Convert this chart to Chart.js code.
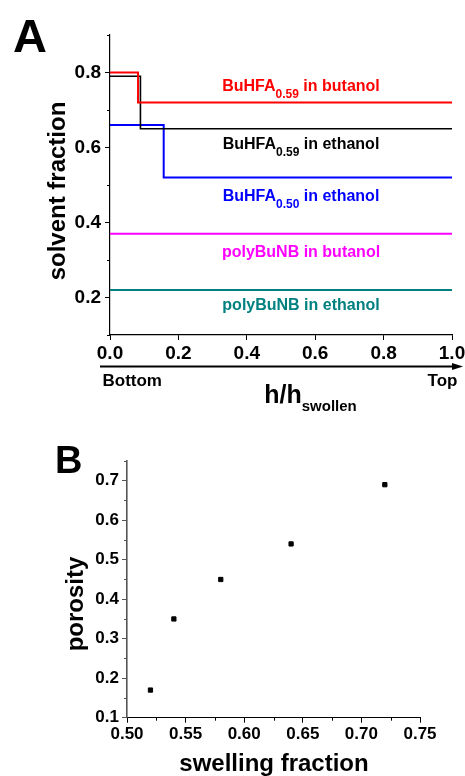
<!DOCTYPE html>
<html>
<head>
<meta charset="utf-8">
<script src="https://cdn.jsdelivr.net/npm/chart.js@4.4.1/dist/chart.umd.min.js"></script>
<style>
  html, body { margin: 0; padding: 0; background: #fff; }
  #wrap { position: relative; width: 465px; height: 776px; overflow: hidden; }
  canvas { position: absolute; left: 0; }
  #panelA { top: 0; }
  #panelB { top: 440px; }
</style>
</head>
<body>
<div id="wrap">
  <canvas id="panelA" width="465" height="440"></canvas>
  <canvas id="panelB" width="465" height="336"></canvas>
</div>
<script>
// ============================================
// Solvent fraction profiles (A) + porosity vs swelling (B)
// ============================================

// --- Data: panel A, h/h_swollen vs solvent fraction (stepped) ---
const hBut59 = [0, 0.082, 1];
const fBut59 = [0.80, 0.72, 0.72];
const hEth59 = [0, 0.089, 1];
const fEth59 = [0.79, 0.65, 0.65];
const hEth50 = [0, 0.157, 1];
const fEth50 = [0.66, 0.52, 0.52];
const hNbBut = [0, 1];
const fNbBut = [0.37, 0.37];
const hNbEth = [0, 1];
const fNbEth = [0.22, 0.22];

// series names as [text, subscript, text]
const nameBut59 = ['BuHFA', '0.59', ' in butanol'];
const nameEth59 = ['BuHFA', '0.59', ' in ethanol'];
const nameEth50 = ['BuHFA', '0.50', ' in ethanol'];
const nameNbBut = ['polyBuNB in butanol', '', ''];
const nameNbEth = ['polyBuNB in ethanol', '', ''];

const xTicksA = [0, 0.2, 0.4, 0.6, 0.8, 1.0];
const yTicksA = [0.2, 0.4, 0.6, 0.8];
const yMinorA = [0.1, 0.3, 0.5, 0.7, 0.9];

// --- Data: panel B, porosity vs swelling fraction ---
const swelling = [0.52, 0.54, 0.58, 0.64, 0.72];
const porosity = [0.17, 0.35, 0.45, 0.54, 0.69];

const xTicksB = [0.50, 0.55, 0.60, 0.65, 0.70, 0.75];
const xMinorB = [0.525, 0.575, 0.625, 0.675, 0.725];
const yTicksB = [0.1, 0.2, 0.3, 0.4, 0.5, 0.6, 0.7];
const yMinorB = [0.15, 0.25, 0.35, 0.45, 0.55, 0.65, 0.75];

const FONT = "'Liberation Sans', Arial, Helvetica, sans-serif";
Chart.defaults.font.family = FONT;
Chart.defaults.color = '#000';

const toPoints = (xs, ys) => xs.map((x, i) => ({ x: x, y: ys[i] }));

// text with a subscript part, centred on cx
function drawSubText(ctx, parts, cx, baseline, color, size, subSize, drop) {
    const main = `bold ${size}px ${FONT}`;
    const sub = `bold ${subSize}px ${FONT}`;
    ctx.font = main; const w0 = ctx.measureText(parts[0]).width;
    ctx.font = sub; const w1 = parts[1] ? ctx.measureText(parts[1]).width : 0;
    ctx.font = main; const w2 = parts[2] ? ctx.measureText(parts[2]).width : 0;
    let x = cx - (w0 + w1 + w2) / 2;
    ctx.fillStyle = color;
    ctx.textAlign = 'left';
    ctx.textBaseline = 'alphabetic';
    ctx.font = main; ctx.fillText(parts[0], x, baseline); x += w0;
    if (parts[1]) { ctx.font = sub; ctx.fillText(parts[1], x, baseline + drop); x += w1; }
    if (parts[2]) { ctx.font = main; ctx.fillText(parts[2], x, baseline); }
}

// --- Minor tick marks (short, outward) ---
const minorTicks = {
    id: 'minorTicks',
    afterDraw(chart, args, opts) {
        const { ctx, scales } = chart;
        ctx.save();
        ctx.lineWidth = 1;
        if (opts.y) {
            const s = scales.y;
            ctx.strokeStyle = opts.yColor || '#000';
            opts.y.forEach(v => {
                const py = Math.round(s.getPixelForValue(v)) + 0.5;
                ctx.beginPath(); ctx.moveTo(s.right - opts.length, py); ctx.lineTo(s.right, py); ctx.stroke();
            });
        }
        if (opts.x) {
            const s = scales.x;
            ctx.strokeStyle = '#000';
            opts.x.forEach(v => {
                const px = Math.round(s.getPixelForValue(v)) + 0.5;
                ctx.beginPath(); ctx.moveTo(px, s.top); ctx.lineTo(px, s.top + opts.length); ctx.stroke();
            });
        }
        ctx.restore();
    }
};

// --- Panel A decorations: letter, titles, arrow, series labels ---
const panelADecor = {
    id: 'panelADecor',
    afterDraw(chart) {
        const { ctx, scales } = chart;
        ctx.save();
        ctx.fillStyle = '#000';
        ctx.textBaseline = 'alphabetic';
        ctx.textAlign = 'left';
        ctx.font = `bold 47px ${FONT}`;
        ctx.fillText('A', 13, 52);

        ctx.save();
        ctx.translate(65, 191);
        ctx.rotate(-Math.PI / 2);
        ctx.textAlign = 'center';
        ctx.font = `bold 24px ${FONT}`;
        ctx.fillText('solvent fraction', 0, 0);
        ctx.restore();

        // Bottom -> Top arrow
        ctx.strokeStyle = '#000';
        ctx.lineWidth = 2;
        ctx.beginPath(); ctx.moveTo(100, 366.5); ctx.lineTo(454, 366.5); ctx.stroke();
        ctx.beginPath(); ctx.moveTo(463, 366.5); ctx.lineTo(452, 363); ctx.lineTo(452, 370); ctx.closePath(); ctx.fill();

        ctx.font = `bold 17px ${FONT}`;
        ctx.textAlign = 'left';
        ctx.fillText('Bottom', 102.5, 385.5);
        ctx.textAlign = 'right';
        ctx.fillText('Top', 457.5, 385.5);

        drawSubText(ctx, ['h/h', 'swollen', ''], 310.5, 402.5, '#000', 25, 15, 8.5);

        chart.data.datasets.forEach(ds => {
            const last = ds.data[ds.data.length - 1];
            const py = scales.y.getPixelForValue(last.y);
            drawSubText(ctx, ds.tag, 301, py + ds.labelDy, ds.borderColor, 16, 12, 7);
        });
        ctx.restore();
    }
};

// --- Panel B decorations ---
const panelBDecor = {
    id: 'panelBDecor',
    afterDraw(chart) {
        const { ctx } = chart;
        ctx.save();
        ctx.fillStyle = '#000';
        ctx.textBaseline = 'alphabetic';
        ctx.textAlign = 'left';
        ctx.font = `bold 38px ${FONT}`;
        ctx.fillText('B', 55, 33);

        ctx.save();
        ctx.translate(83, 164);
        ctx.rotate(-Math.PI / 2);
        ctx.textAlign = 'center';
        ctx.font = `bold 24px ${FONT}`;
        ctx.fillText('porosity', 0, 0);
        ctx.restore();

        ctx.textAlign = 'center';
        ctx.font = `bold 24px ${FONT}`;
        ctx.fillText('swelling fraction', 274, 330.5);
        ctx.restore();
    }
};

function axis(opts) {
    const { ticks, digits, size, fitW, fitH, border, min, max, pad } = opts;
    return {
        type: 'linear', min: min, max: max,
        afterBuildTicks: s => { s.ticks = ticks.map(v => ({ value: v })); },
        afterFit: s => {
            if (fitW !== undefined) s.width = fitW;
            if (fitH !== undefined) s.height = fitH;
            s.paddingLeft = 0; s.paddingRight = 0; s.paddingTop = 0; s.paddingBottom = 0;
        },
        ticks: {
            autoSkip: false, maxRotation: 0, padding: pad,
            color: '#000', font: { size: size, weight: 'bold' },
            callback: v => Number(v).toFixed(digits)
        },
        grid: { drawOnChartArea: false, drawTicks: true, tickLength: 5, tickColor: border.color, tickWidth: 1 },
        border: { display: true, color: border.color, width: border.width }
    };
}

// --- Panel A: stepped solvent profiles ---
function initPanelA() {
    const line = (xs, ys, color, tag, dy, w) => ({
        data: toPoints(xs, ys), borderColor: color, backgroundColor: color,
        borderWidth: w, pointRadius: 0, stepped: true, fill: false,
        tag: tag, labelDy: dy
    });
    new Chart(document.getElementById('panelA'), {
        type: 'line',
        data: {
            datasets: [
                line(hBut59, fBut59, '#ff0000', nameBut59, -12, 2),
                line(hEth59, fEth59, '#000000', nameEth59, 20.5, 1.6),
                line(hEth50, fEth50, '#0000ff', nameEth50, 23.5, 2),
                line(hNbBut, fNbBut, '#ff00ff', nameNbBut, 23, 2),
                line(hNbEth, fNbEth, '#008080', nameNbEth, 19.5, 2)
            ]
        },
        options: {
            responsive: false, animation: false, devicePixelRatio: 1,
            layout: { padding: { left: 0, top: 35, right: 13, bottom: 0 } },
            plugins: {
                legend: { display: false }, tooltip: { enabled: false },
                minorTicks: { y: yMinorA, length: 3 }
            },
            scales: {
                x: axis({ ticks: xTicksA, digits: 1, size: 19, fitH: 105, min: 0, max: 1, pad: 2,
                          border: { color: '#000', width: 1.2 } }),
                y: axis({ ticks: yTicksA, digits: 1, size: 19, fitW: 110, min: 0.1, max: 0.9, pad: 4,
                          border: { color: '#000', width: 1.2 } })
            }
        },
        plugins: [minorTicks, panelADecor]
    });
}

// --- Panel B: porosity scatter ---
function initPanelB() {
    new Chart(document.getElementById('panelB'), {
        type: 'scatter',
        data: {
            datasets: [{
                data: toPoints(swelling, porosity),
                pointStyle: 'rect', pointRadius: 3, borderWidth: 1,
                backgroundColor: '#000', borderColor: '#000'
            }]
        },
        options: {
            responsive: false, animation: false, devicePixelRatio: 1,
            layout: { padding: { left: 0, top: 21, right: 45, bottom: 0 } },
            plugins: {
                legend: { display: false }, tooltip: { enabled: false },
                minorTicks: { x: xMinorB, y: yMinorB, length: 3, yColor: '#555' }
            },
            scales: {
                x: axis({ ticks: xTicksB, digits: 2, size: 17, fitH: 58.3, min: 0.5, max: 0.75, pad: 1,
                          border: { color: '#000', width: 1 } }),
                y: axis({ ticks: yTicksB, digits: 1, size: 17, fitW: 127, min: 0.1, max: 0.75, pad: 3,
                          border: { color: '#555', width: 1.6 } })
            }
        },
        plugins: [minorTicks, panelBDecor]
    });
}

initPanelA();
initPanelB();
</script>
</body>
</html>
